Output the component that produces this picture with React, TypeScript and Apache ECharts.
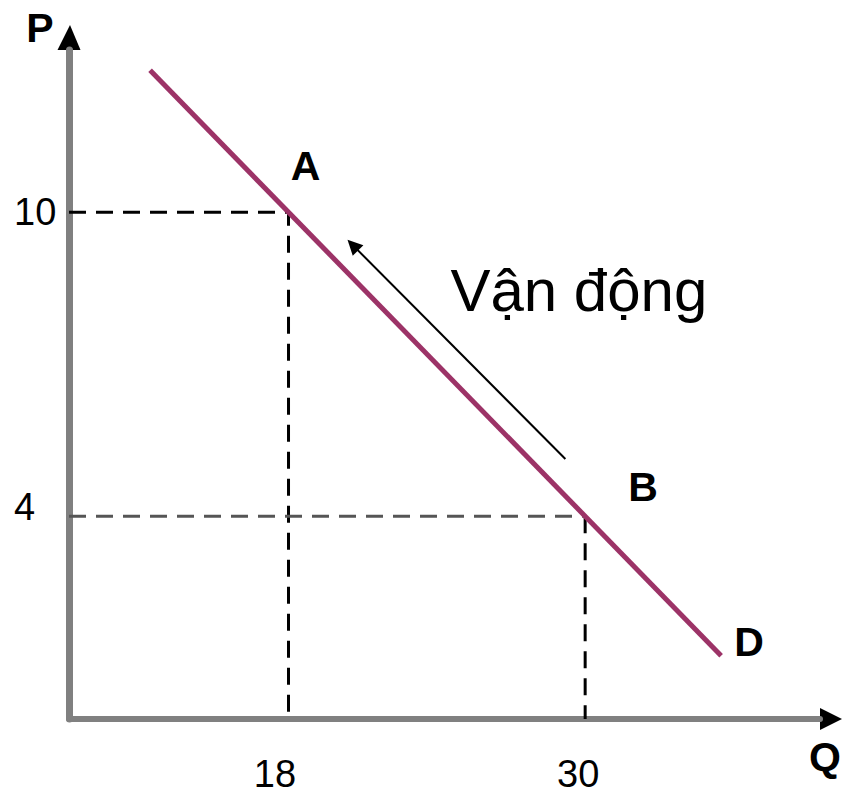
import React, { useEffect, useRef } from "react";
import * as echarts from "echarts";

// Axis range (Q on x, P on y)
const qRange = [9.12, 39.5];
const pRange = [0, 13.2];
// Tick labels
const qTicks = [18, 30];
const pTicks = [4, 10];
// Points on the demand curve
const pointA = [18, 10];
const pointB = [30, 4];
// Demand curve end points
const demandLine = [
  [12.4, 12.8],
  [35.5, 1.25],
];
// Movement arrow (from near B towards A)
const moveArrow = [
  [29.2, 5.13],
  [20.6, 9.35],
];
const moveText = "Vận động";

export default function App() {
  const ref = useRef<HTMLDivElement>(null);
  useEffect(() => {
    if (!ref.current) return;
    const chart = echarts.init(ref.current, null, { renderer: "svg" });
    const font = "'Liberation Sans', Arial, sans-serif";
    const guideA = [
      [qRange[0], pointA[1]],
      [pointA[0], pointA[1]],
      [pointA[0], 0],
    ];
    const guideBh = [
      [qRange[0], pointB[1]],
      [pointB[0], pointB[1]],
    ];
    const guideBv = [
      [pointB[0], pointB[1]],
      [pointB[0], 0],
    ];
    chart.setOption({
      animation: false,
      backgroundColor: "#ffffff",
      grid: { left: 69, right: 22, top: 50, bottom: 80 },
      xAxis: {
        type: "value",
        min: qRange[0],
        max: qRange[1],
        axisLine: { onZero: false, lineStyle: { color: "#808080", width: 6 } },
        axisTick: { show: false },
        splitLine: { show: false },
        axisLabel: {
          customValues: qTicks,
          margin: 36,
          formatter: (v: number) => (v === 18 ? "{a|18}" : "{b|30}"),
          rich: {
            a: { fontSize: 38, fontFamily: font, color: "#000", padding: [0, 27, 0, 0] },
            b: { fontSize: 38, fontFamily: font, color: "#000", padding: [0, 14, 0, 0] },
          },
        },
      },
      yAxis: {
        type: "value",
        min: pRange[0],
        max: pRange[1],
        axisLine: { onZero: false, lineStyle: { color: "#808080", width: 7 } },
        axisTick: { show: false },
        splitLine: { show: false },
        axisLabel: {
          customValues: pTicks,
          margin: 55,
          align: "left",
          formatter: (v: number) => (v === 4 ? "{a|4}" : "{b|10}"),
          rich: {
            a: { fontSize: 38, fontFamily: font, color: "#000", padding: [0, 0, 18, 0] },
            b: { fontSize: 38, fontFamily: font, color: "#000" },
          },
        },
      },
      series: [
        {
          type: "line",
          data: guideA,
          symbol: "none",
          z: 2,
          lineStyle: { color: "#000", width: 3, type: [17, 10] },
        },
        {
          type: "line",
          data: guideBh,
          symbol: "none",
          z: 2,
          lineStyle: { color: "#555", width: 3, type: [17, 10] },
        },
        {
          type: "line",
          data: guideBv,
          symbol: "none",
          z: 2,
          lineStyle: { color: "#000", width: 3, type: [17, 10] },
        },
        {
          type: "line",
          data: demandLine,
          symbol: "none",
          z: 3,
          lineStyle: { color: "#9c3367", width: 5 },
        },
        {
          type: "lines",
          coordinateSystem: "cartesian2d",
          z: 4,
          symbol: ["none", "triangle"],
          symbolSize: 15,
          lineStyle: { color: "#000", width: 2, opacity: 1 },
          data: [{ coords: moveArrow }],
        },
      ],
    });

    const px = (d: number[]) => chart.convertToPixel({ gridIndex: 0 }, d) as number[];
    const yTop = px([qRange[0], pRange[1]]);
    const xEnd = px([qRange[1], pRange[0]]);
    const a = px(pointA);
    const b = px(pointB);
    const dEnd = px(demandLine[1]);
    const txt = px([24.55, 8.45]);
    const letter = (s: string, x: number, y: number) => ({
      type: "text",
      x,
      y,
      style: {
        text: s,
        fontSize: 41,
        fontWeight: "bold",
        fontFamily: font,
        fill: "#000",
        align: "center",
        verticalAlign: "middle",
      },
    });
    chart.setOption({
      graphic: [
        {
          type: "polygon",
          shape: {
            points: [
              [yTop[0] - 11.5, yTop[1]],
              [yTop[0] + 11.5, yTop[1]],
              [yTop[0] + 1, yTop[1] - 25],
            ],
          },
          style: { fill: "#000" },
        },
        {
          type: "polygon",
          shape: {
            points: [
              [xEnd[0], xEnd[1] - 11],
              [xEnd[0], xEnd[1] + 11],
              [xEnd[0] + 22, xEnd[1]],
            ],
          },
          style: { fill: "#000" },
        },
        letter("P", yTop[0] - 29, yTop[1] - 22),
        letter("Q", xEnd[0] + 5, xEnd[1] + 38),
        letter("A", a[0] + 17, a[1] - 46),
        letter("B", b[0] + 58, b[1] - 29),
        letter("D", dEnd[0] + 28, dEnd[1] - 14),
        {
          type: "text",
          x: txt[0],
          y: txt[1],
          style: {
            text: moveText,
            fontSize: 60,
            fontFamily: font,
            fill: "#000",
            align: "left",
            verticalAlign: "middle",
          },
        },
      ],
    });
    return () => chart.dispose();
  }, []);
  return (
    <div
      ref={ref}
      style={{ position: "absolute", left: 0, top: 0, width: 842, height: 799 }}
    />
  );
}
